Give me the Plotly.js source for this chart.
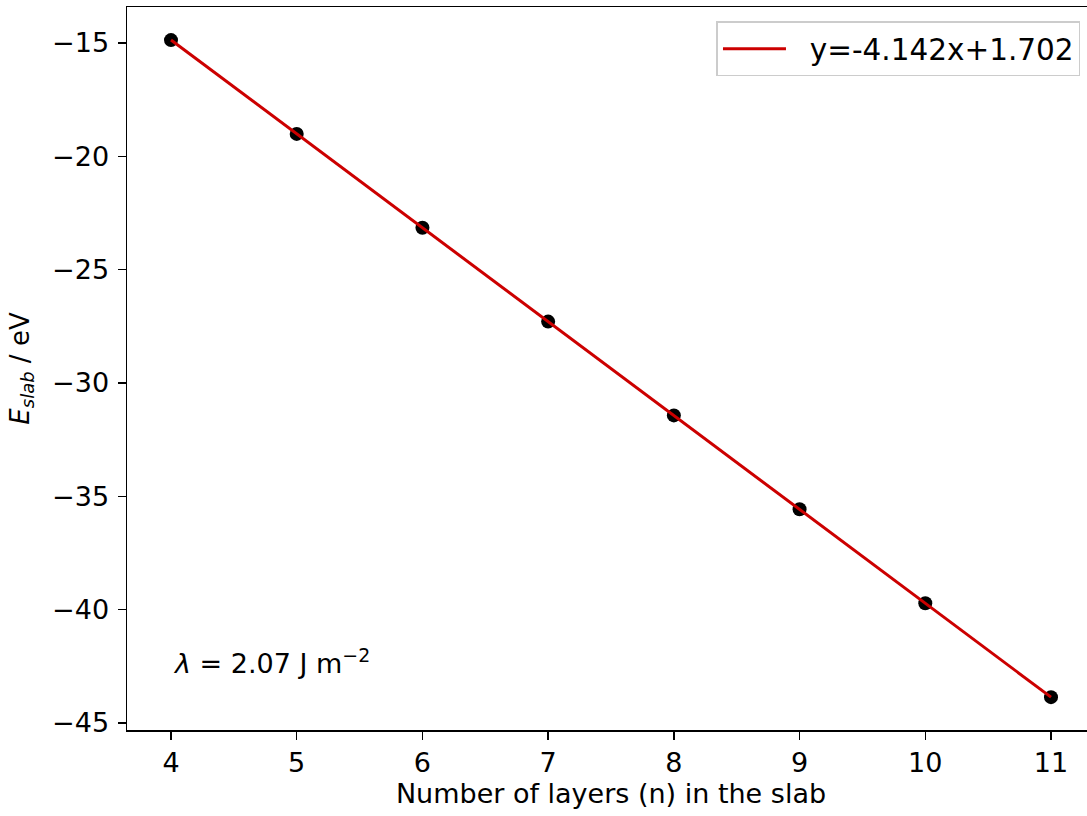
<!DOCTYPE html>
<html>
<head>
<meta charset="utf-8">
<script src="https://cdn.plot.ly/plotly-3.0.1.min.js"></script>
<style>
html, body { margin: 0; padding: 0; overflow: hidden; background: #fff; }
#chart { width: 1100px; height: 816px; }
</style>
</head>
<body>
<div id="chart"></div>
<script>
// Data
var layers = [4, 5, 6, 7, 8, 9, 10, 11];
var slabEnergy = [-14.87, -19.01, -23.15, -27.29, -31.43, -35.57, -39.72, -43.86];
var fitLabel = "y=-4.142x+1.702";
var fitX = [4, 11];
var fitY = [-14.866, -43.860];
var xTicks = [4, 5, 6, 7, 8, 9, 10, 11];
var yTicks = [-45, -40, -35, -30, -25, -20, -15];
var yTickText = ["\u221245", "\u221240", "\u221235", "\u221230", "\u221225", "\u221220", "\u221215"];

var font = "DejaVu Sans, sans-serif";

var traces = [
  {
    x: layers, y: slabEnergy, type: "scatter", mode: "markers",
    marker: { color: "#000000", size: 14 },
    showlegend: false, hoverinfo: "x+y"
  },
  {
    x: fitX, y: fitY, type: "scatter", mode: "lines",
    line: { color: "#cc0000", width: 3 },
    name: "\u00a0\u00a0" + fitLabel
  }
];

var layout = {
  width: 1100, height: 816,
  margin: { l: 127, r: 5, t: 7, b: 86 },
  paper_bgcolor: "#ffffff", plot_bgcolor: "#ffffff",
  font: { family: font, size: 27, color: "#000000" },
  xaxis: {
    range: [3.65, 11.35],
    tickvals: xTicks,
    ticks: "outside", ticklen: 8, tickwidth: 1.5, tickcolor: "#000",
    showline: true, linecolor: "#000", linewidth: 1.5, mirror: true,
    showgrid: false, zeroline: false,
    tickfont: { family: font, size: 27 },
    title: { text: "Number of layers (n) in the slab", font: { family: font, size: 27 }, standoff: 7 }
  },
  yaxis: {
    range: [-45.31, -13.41],
    tickvals: yTicks, ticktext: yTickText,
    ticks: "outside", ticklen: 8, tickwidth: 1.5, tickcolor: "#000",
    showline: true, linecolor: "#000", linewidth: 1.5, mirror: true,
    showgrid: false, zeroline: false,
    tickfont: { family: font, size: 27 },
    ticklabelstandoff: 3,
    title: { text: "<i>E</i><sub><span style='font-size:18px'><i>slab</i></span></sub> / eV", font: { family: font, size: 26 }, standoff: 15 }
  },
  legend: {
    x: 0.985, y: 0.98, xanchor: "right", yanchor: "top",
    bgcolor: "#ffffff", bordercolor: "#cccccc", borderwidth: 1.5,
    font: { family: font, size: 29.5 },
    itemwidth: 63
  },
  annotations: [
    {
      xref: "paper", yref: "paper", x: 0.045, y: 0.095,
      xanchor: "left", yanchor: "middle", showarrow: false,
      text: "<i>\u03bb</i> = 2.07 J m<sup>\u22122</sup>",
      font: { family: font, size: 27, color: "#000" }
    }
  ]
};

Plotly.newPlot("chart", traces, layout, { displayModeBar: false, staticPlot: true });
</script>
</body>
</html>
